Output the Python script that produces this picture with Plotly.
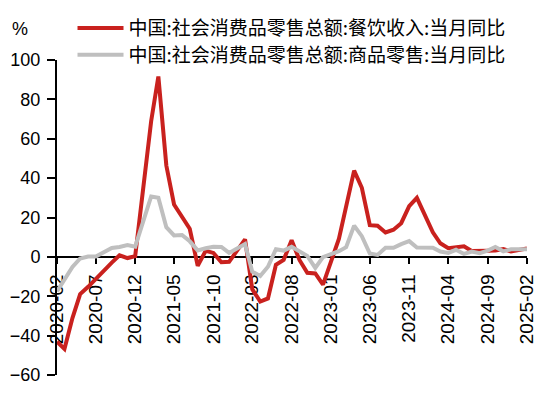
import plotly.graph_objects as go

# Months (January omitted: China publishes a combined Jan-Feb figure)
months = [
    "2020-02", "2020-03", "2020-04", "2020-05", "2020-06", "2020-07", "2020-08", "2020-09", "2020-10", "2020-11", "2020-12",
    "2021-02", "2021-03", "2021-04", "2021-05", "2021-06", "2021-07", "2021-08", "2021-09", "2021-10", "2021-11", "2021-12",
    "2022-02", "2022-03", "2022-04", "2022-05", "2022-06", "2022-07", "2022-08", "2022-09", "2022-10", "2022-11", "2022-12",
    "2023-02", "2023-03", "2023-04", "2023-05", "2023-06", "2023-07", "2023-08", "2023-09", "2023-10", "2023-11", "2023-12",
    "2024-02", "2024-03", "2024-04", "2024-05", "2024-06", "2024-07", "2024-08", "2024-09", "2024-10", "2024-11", "2024-12",
    "2025-02",
]

catering_yoy = [
    -43.1, -46.8, -31.1, -18.9, -15.2, -11.0, -7.0, -2.9, 0.8, -0.6, 0.4,
    68.9, 91.6, 46.4, 26.6, 20.2, 14.3, -4.5, 3.1, 2.0, -2.7, -2.5,
    8.9, -16.4, -22.7, -21.1, -4.0, -1.5, 8.4, -1.7, -8.1, -8.4, -14.1,
    9.2, 26.3, 43.8, 35.1, 16.1, 15.8, 12.4, 13.8, 17.1, 25.8, 30.0,
    12.5, 6.9, 4.4, 5.0, 5.4, 3.0, 3.3, 3.1, 3.2, 4.0, 2.7,
    4.3,
]

goods_yoy = [
    -17.6, -12.0, -5.1, -0.8, 0.2, 0.2, 2.2, 4.5, 5.0, 6.0, 5.2,
    30.7, 30.0, 15.1, 10.9, 11.1, 7.9, 3.3, 4.4, 5.1, 5.0, 2.0,
    6.5, -7.5, -9.7, -5.0, 3.9, 3.2, 5.1, 3.0, 0.5, -5.6, -0.1,
    2.9, 4.9, 15.9, 10.5, 1.7, 1.0, 4.6, 4.6, 6.5, 8.0, 4.8,
    4.6, 2.7, 2.0, 3.6, 1.5, 2.7, 1.9, 3.2, 5.0, 2.8, 3.9,
    3.9,
]

series_names = [
    "中国:社会消费品零售总额:餐饮收入:当月同比",
    "中国:社会消费品零售总额:商品零售:当月同比",
]

tick_dates = ["2020-02", "2020-07", "2020-12", "2021-05", "2021-10", "2022-03", "2022-08",
              "2023-01", "2023-06", "2023-11", "2024-04", "2024-09", "2025-02"]

y_ticks = [-60, -40, -20, 0, 20, 40, 60, 80, 100]

fig = go.Figure()
fig.add_trace(go.Scatter(x=months, y=catering_yoy, mode="lines", name=series_names[0],
                         line=dict(color="#C9211E", width=4), legend="legend"))
fig.add_trace(go.Scatter(x=months, y=goods_yoy, mode="lines", name=series_names[1],
                         line=dict(color="#BFBFBF", width=4), legend="legend2"))

legend_font = dict(family="Noto Sans CJK SC", size=19, color="black")
legend_common = dict(xanchor="left", yanchor="middle", font=legend_font,
                     bgcolor="rgba(0,0,0,0)", itemwidth=46)

fig.update_layout(
    width=542, height=397,
    margin=dict(l=57, r=15, t=60, b=22, autoexpand=False),
    paper_bgcolor="white", plot_bgcolor="white",
    showlegend=True,
    legend=dict(x=0.033, y=1.101, **legend_common),
    legend2=dict(x=0.033, y=1.016, **legend_common),
    xaxis=dict(
        type="date",
        range=["2020-02-01", "2025-02-01"],
        tickvals=tick_dates, ticktext=tick_dates,
        tickangle=-90,
        tickfont=dict(family="Liberation Sans, Arial, sans-serif", size=19, color="black"),
        showgrid=False, zeroline=False,
        showline=True, linecolor="black", linewidth=2,
        ticks="outside", ticklen=6, tickwidth=2, tickcolor="black",
        ticklabelstandoff=3,
        anchor="free", position=0.375,
        layer="below traces",
    ),
    yaxis=dict(
        range=[-60, 100],
        tickvals=y_ticks,
        tickfont=dict(family="Liberation Sans, Arial, sans-serif", size=18, color="black"),
        showgrid=False, zeroline=False,
        showline=True, linecolor="black", linewidth=2,
        ticks="outside", ticklen=8, tickwidth=2, tickcolor="black",
        ticklabelstandoff=3,
    ),
    annotations=[dict(text="%", xref="paper", yref="paper", x=-0.099, y=1.098,
                      xanchor="left", yanchor="middle", showarrow=False,
                      font=dict(family="Liberation Sans, Arial, sans-serif", size=18, color="black"))],
)

fig.write_html("out.html", config={"displayModeBar": False},
               post_script="document.body.style.margin='0';document.body.style.padding='0';")
